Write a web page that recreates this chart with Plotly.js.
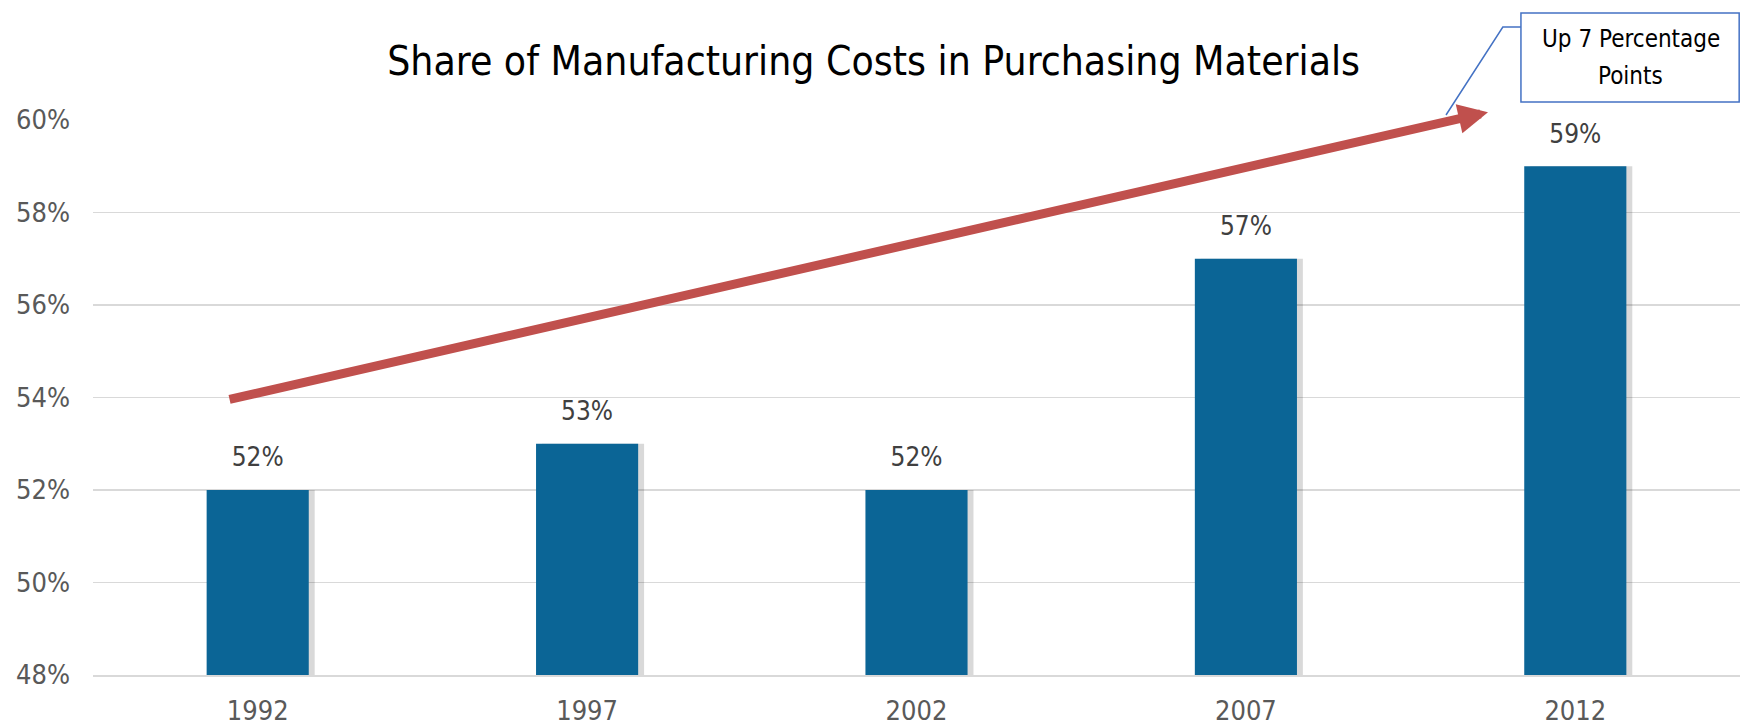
<!DOCTYPE html>
<html>
<head>
<meta charset="utf-8">
<script src="https://cdn.plot.ly/plotly-3.0.1.min.js"></script>
<style>
html,body{margin:0;padding:0;background:#fff;}
#chart{width:1744px;height:728px;}
</style>
</head>
<body>
<div id="chart"></div>
<script>
// ---- data ----
const years = ['1992', '1997', '2002', '2007', '2012'];
const shares = [52, 53, 52, 57, 59];
const labels = ['52%', '53%', '52%', '57%', '59%'];
const yTicks = [48, 50, 52, 54, 56, 58, 60];
const yTickText = ['48%', '50%', '52%', '54%', '56%', '58%', '60%'];
const trendStart = [-0.09, 53.95];   // category index, percent
const trendEnd = [3.735, 60.17];
const calloutLines = ['Up 7 Percentage', 'Points'];
const titleText = 'Share of Manufacturing Costs in Purchasing Materials';

const FONT = '"DejaVu Sans Condensed", "Liberation Sans Narrow", "Arial Narrow", sans-serif';
const BAR_W = 0.31;

const shadow = {
  type: 'bar', x: years, y: shares,
  width: BAR_W, offset: -BAR_W / 2 + 0.018,
  marker: {color: 'rgba(0,0,0,0.15)', line: {width: 0}},
  hoverinfo: 'skip', showlegend: false
};
const bars = {
  type: 'bar', x: years, y: shares,
  width: BAR_W, offset: -BAR_W / 2,
  marker: {color: '#0B6596', line: {width: 0}},
  showlegend: false
};
const dataLabels = {
  type: 'scatter', mode: 'markers+text', x: years, y: shares,
  text: labels, textposition: 'top center',
  marker: {size: 26, opacity: 0},
  textfont: {family: FONT, size: 26, color: '#404040'},
  hoverinfo: 'skip', showlegend: false, cliponaxis: false
};

const calloutFont = {family: FONT, size: 24, color: '#000000'};

const layout = {
  width: 1744, height: 728,
  margin: {l: 93, r: 4, t: 120, b: 53},
  paper_bgcolor: '#ffffff', plot_bgcolor: '#ffffff',
  barmode: 'overlay',
  title: {
    text: titleText,
    font: {family: FONT, size: 40.5, color: '#000000'},
    x: 0.474, xref: 'paper', xanchor: 'center',
    y: 0.917, yref: 'container', yanchor: 'middle'
  },
  xaxis: {
    type: 'category',
    range: [-0.5, 4.5],
    showgrid: false, zeroline: false,
    showline: true, linecolor: '#D9D9D9', linewidth: 1.5,
    ticks: '', ticklabelstandoff: 11,
    tickfont: {family: FONT, size: 27, color: '#595959'}
  },
  yaxis: {
    range: [48, 60],
    tickvals: yTicks, ticktext: yTickText,
    showgrid: true, gridcolor: '#D9D9D9', gridwidth: 1.5,
    zeroline: false, showline: false, ticks: '',
    ticklabelstandoff: 22,
    tickfont: {family: FONT, size: 27, color: '#595959'}
  },
  annotations: [
    {
      xref: 'x', yref: 'y', axref: 'x', ayref: 'y',
      x: trendEnd[0], y: trendEnd[1],
      ax: trendStart[0], ay: trendStart[1],
      text: '', showarrow: true,
      arrowhead: 2, arrowsize: 0.66, arrowwidth: 9,
      arrowcolor: '#C0504D'
    },
    {
      xref: 'paper', yref: 'paper',
      x: 0.9338, y: 1.146, xanchor: 'center', yanchor: 'middle',
      text: calloutLines[0], showarrow: false, font: calloutFont
    },
    {
      xref: 'paper', yref: 'paper',
      x: 0.9338, y: 1.079, xanchor: 'center', yanchor: 'middle',
      text: calloutLines[1], showarrow: false, font: calloutFont
    }
  ],
  shapes: [
    {
      type: 'rect', xref: 'paper', yref: 'paper',
      x0: 0.867, x1: 0.9995, y0: 1.0324, y1: 1.1928,
      line: {color: '#4472C4', width: 1.5}, fillcolor: 'rgba(0,0,0,0)'
    },
    {
      type: 'path', xref: 'paper', yref: 'paper',
      path: 'M 0.8215 1.009 L 0.856 1.1676 L 0.867 1.1676',
      line: {color: '#4472C4', width: 1.5}
    }
  ]
};

Plotly.newPlot('chart', [shadow, bars, dataLabels], layout, {displayModeBar: false, staticPlot: true});
</script>
</body>
</html>
